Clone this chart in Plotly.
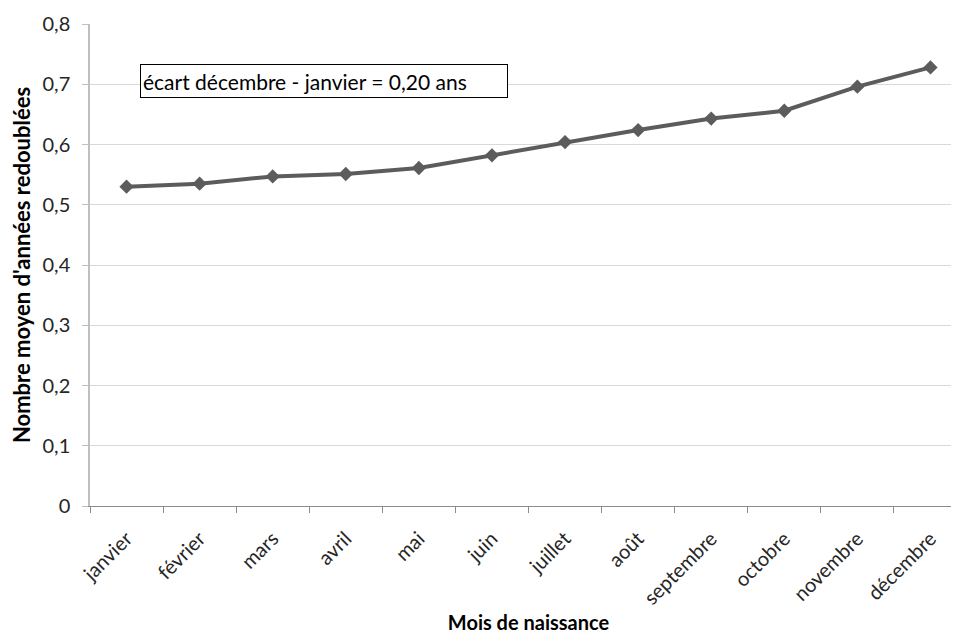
import plotly.graph_objects as go

months = ["janvier", "février", "mars", "avril", "mai", "juin", "juillet",
          "août", "septembre", "octobre", "novembre", "décembre"]
values = [0.530, 0.535, 0.547, 0.551, 0.561, 0.582, 0.604, 0.624, 0.643, 0.656, 0.696, 0.728]
y_tick_vals = [0, 0.1, 0.2, 0.3, 0.4, 0.5, 0.6, 0.7, 0.8]
y_tick_text = ["0", "0,1", "0,2", "0,3", "0,4", "0,5", "0,6", "0,7", "0,8"]
annotation_text = "écart décembre - janvier = 0,20 ans"
x_title = "Mois de naissance"
y_title = "Nombre moyen d'années redoublées"

FONT = "Lato"
W, H = 959, 637
# page body has an 8px margin, so compensate
L, R, T, B = 82, 0, 16, 139

fig = go.Figure()
fig.add_trace(go.Scatter(
    x=months, y=values, mode="lines+markers",
    line=dict(color="#5c5c5c", width=4),
    marker=dict(symbol="diamond", size=11, color="#5c5c5c"),
    showlegend=False, hoverinfo="skip",
))

plot_w = W - L - R
plot_h = H - T - B

fig.update_layout(
    width=W, height=H,
    margin=dict(l=L, r=R, t=T, b=B),
    paper_bgcolor="white", plot_bgcolor="white",
    font=dict(family=FONT, size=21, color="#262626"),
    xaxis=dict(
        type="category", range=[-0.5, 11.5], automargin=False,
        tickangle=-45, tickson="boundaries",
        ticks="outside", ticklen=6, tickcolor="#8c8c8c",
        ticklabelstandoff=12,
        showline=True, linecolor="#8c8c8c", linewidth=1.3,
        showgrid=False, zeroline=False,
        tickfont=dict(family=FONT, size=20, color="#262626"),
        title=dict(text="<b>" + x_title + "</b>", standoff=8,
                   font=dict(family=FONT, size=20, color="#000000")),
    ),
    yaxis=dict(
        range=[0, 0.8], tickvals=y_tick_vals, ticktext=y_tick_text,
        automargin=False,
        ticks="outside", ticklen=6, tickcolor="#bfbfbf",
        ticklabelstandoff=8,
        showline=True, linecolor="#bfbfbf", linewidth=1.5,
        showgrid=True, gridcolor="#d9d9d9", gridwidth=1,
        zeroline=False,
        tickfont=dict(family=FONT, size=20, color="#262626"),
        title=dict(text="<b>" + y_title + "</b>", standoff=14,
                   font=dict(family=FONT, size=22, color="#000000")),
    ),
    annotations=[dict(
        text=annotation_text, xref="paper", yref="paper",
        x=(132 - L) / plot_w, y=(498.3 - 56) / plot_h,
        xanchor="left", yanchor="top", showarrow=False, align="left",
        width=362, height=28, borderpad=2,
        bordercolor="#000000", borderwidth=1, bgcolor="white",
        font=dict(family=FONT, size=21, color="#000000"),
    )],
)

fig.write_html("out.html")
